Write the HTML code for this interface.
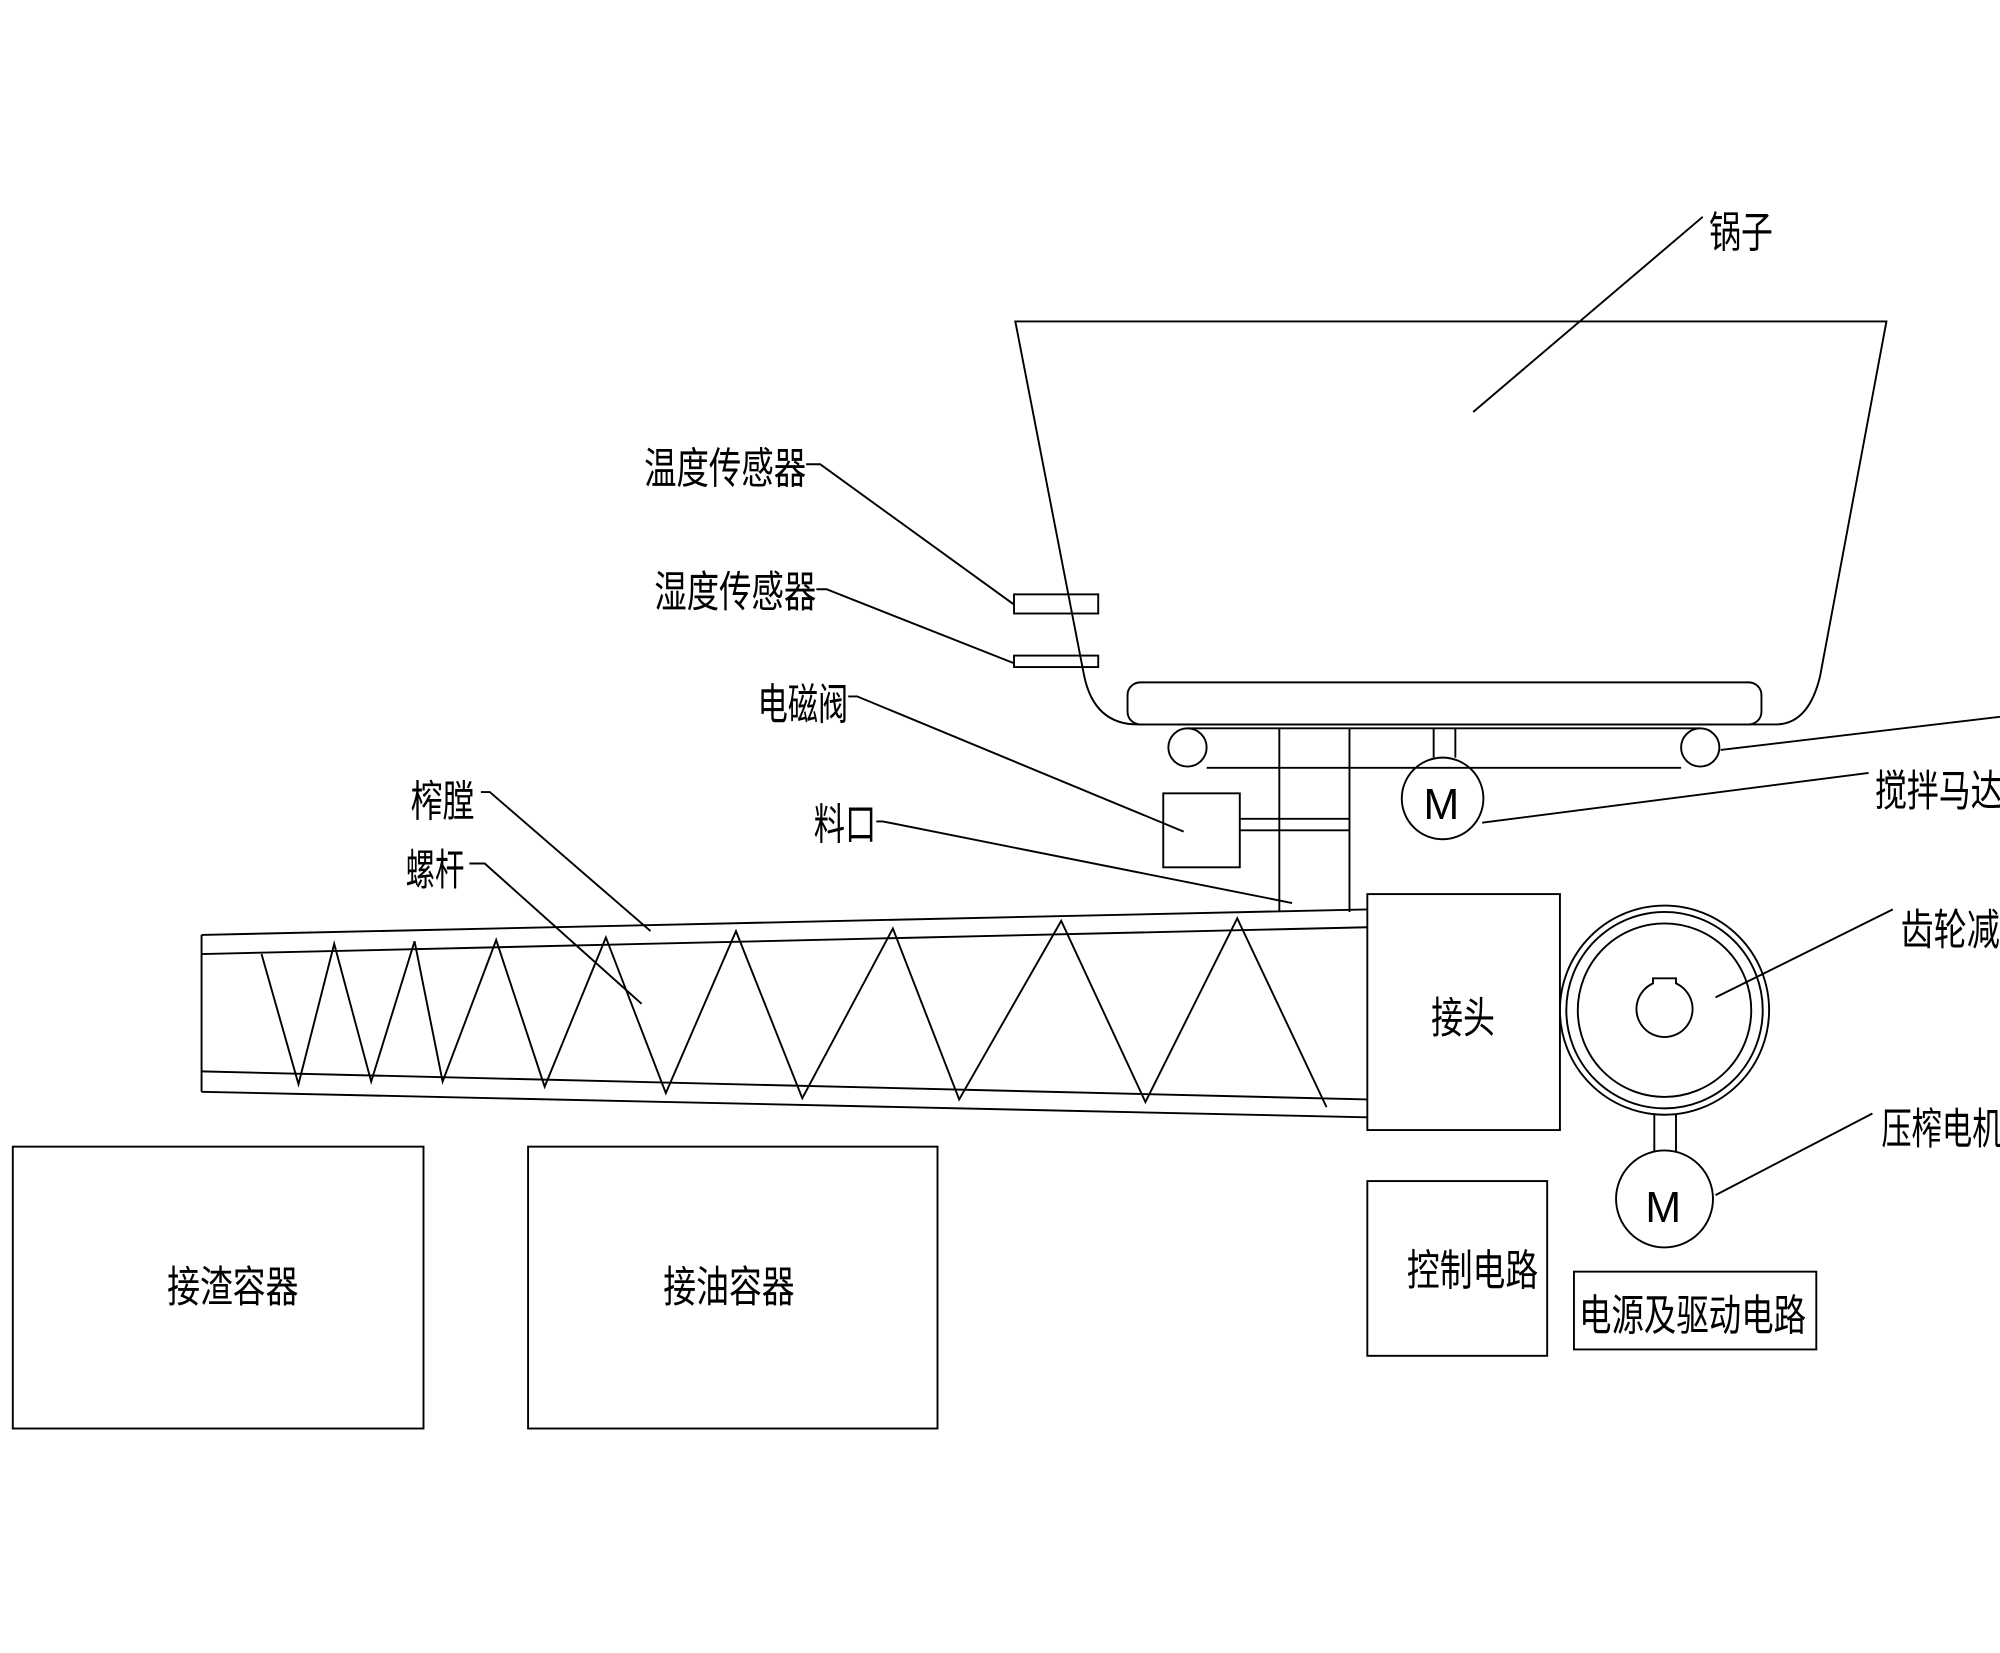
<!DOCTYPE html>
<html><head><meta charset="utf-8"><style>html,body{margin:0;padding:0;background:#fff}svg{display:block}</style></head>
<body>
<svg width="2000" height="1653" viewBox="0 0 1568 1296" xmlns="http://www.w3.org/2000/svg">
<g fill="none" stroke="#000" stroke-width="1.5">
<!-- pot -->
<path d="M796,252 L1479,252 L1427,530 Q1418,568 1392,568 L892,568 Q858,568 850,530 Z"/>
<rect x="884" y="535" width="497" height="33" rx="10"/>
<circle cx="931" cy="586" r="15"/><circle cx="1333" cy="586" r="15"/>
<line x1="931" y1="571" x2="1333" y2="571"/><line x1="946" y1="602" x2="1318" y2="602"/>
<line x1="1003" y1="571" x2="1003" y2="715"/><line x1="1058" y1="571" x2="1058" y2="715"/>
<line x1="1124" y1="571" x2="1124" y2="594"/><line x1="1141" y1="571" x2="1141" y2="594"/>
<circle cx="1131" cy="626" r="32"/>
<rect x="912" y="622" width="60" height="58"/>
<line x1="972" y1="642" x2="1058" y2="642"/><line x1="972" y1="651" x2="1058" y2="651"/>
<rect x="795" y="466" width="66" height="15"/>
<rect x="795" y="514" width="66" height="9"/>
<!-- barrel -->
<line x1="158" y1="733" x2="1072" y2="713"/>
<line x1="158" y1="748" x2="1072" y2="727"/>
<line x1="158" y1="840" x2="1072" y2="862"/>
<line x1="158" y1="856" x2="1072" y2="876"/>
<line x1="158" y1="733" x2="158" y2="856"/>
<polyline points="205,748 234,850 262,740 291,848 325,738 347,848 389,737 427,852 475,735 522,857 577,730 629,861 700,728 752,862 832,722 898,864 970,720 1040,868"/>
<rect x="1072" y="701" width="151" height="185"/>
<circle cx="1305" cy="792" r="82"/><circle cx="1305" cy="792" r="77"/><circle cx="1305" cy="792" r="68"/>
<path d="M1296,771 L1296,767 L1314,767 L1314,771 A22,22 0 1 1 1296,771 Z"/>
<line x1="1297" y1="874" x2="1297" y2="903"/><line x1="1314" y1="874" x2="1314" y2="903"/>
<circle cx="1305" cy="940" r="38"/>
<rect x="1234" y="997" width="190" height="61"/>
<rect x="1072" y="926" width="141" height="137"/>
<rect x="10" y="899" width="322" height="221"/>
<rect x="414" y="899" width="321" height="221"/>
<!-- leaders -->
<line x1="1335" y1="170" x2="1155" y2="323"/>
<polyline points="632,364 643,364 795,474"/>
<polyline points="640,462 648,462 795,520"/>
<polyline points="665,546 672,546 928,652"/>
<polyline points="687,644 692,644 1013,708"/>
<polyline points="377,621 384,621 510,730"/>
<polyline points="368,677 380,677 503,787"/>
<polyline points="1465,606 1162,645"/>
<polyline points="1568,562 1349,588"/>
<polyline points="1484,713 1345,782"/>
<polyline points="1468,873 1345,937"/>
</g>
<g font-family="'Liberation Sans','Noto Sans CJK SC',sans-serif" font-size="34" fill="#000" lengthAdjust="spacingAndGlyphs">
<text x="1340" y="194" textLength="50" lengthAdjust="spacingAndGlyphs">锅子</text>
<text x="505" y="379" textLength="127" lengthAdjust="spacingAndGlyphs">温度传感器</text>
<text x="513" y="476" textLength="127" lengthAdjust="spacingAndGlyphs">湿度传感器</text>
<text x="594" y="564" textLength="71" lengthAdjust="spacingAndGlyphs">电磁阀</text>
<text x="638" y="658" textLength="49" lengthAdjust="spacingAndGlyphs">料口</text>
<text x="322" y="640" textLength="50" lengthAdjust="spacingAndGlyphs">榨膛</text>
<text x="318" y="694" textLength="46" lengthAdjust="spacingAndGlyphs">螺杆</text>
<text x="1470" y="632" textLength="100" lengthAdjust="spacingAndGlyphs">搅拌马达</text>
<text x="1490" y="741" textLength="78" lengthAdjust="spacingAndGlyphs">齿轮减</text>
<text x="1475" y="897" textLength="95" lengthAdjust="spacingAndGlyphs">压榨电机</text>
<text x="1122" y="810" textLength="50" lengthAdjust="spacingAndGlyphs">接头</text>
<text x="1103" y="1008" textLength="103" lengthAdjust="spacingAndGlyphs">控制电路</text>
<text x="1238" y="1043" textLength="178" lengthAdjust="spacingAndGlyphs">电源及驱动电路</text>
<text x="131" y="1021" textLength="103" lengthAdjust="spacingAndGlyphs">接渣容器</text>
<text x="520" y="1021" textLength="103" lengthAdjust="spacingAndGlyphs">接油容器</text>
<text x="1116" y="642" textLength="28" lengthAdjust="spacingAndGlyphs">M</text>
<text x="1290" y="958" textLength="28" lengthAdjust="spacingAndGlyphs">M</text>
</g>
</svg>
</body></html>
